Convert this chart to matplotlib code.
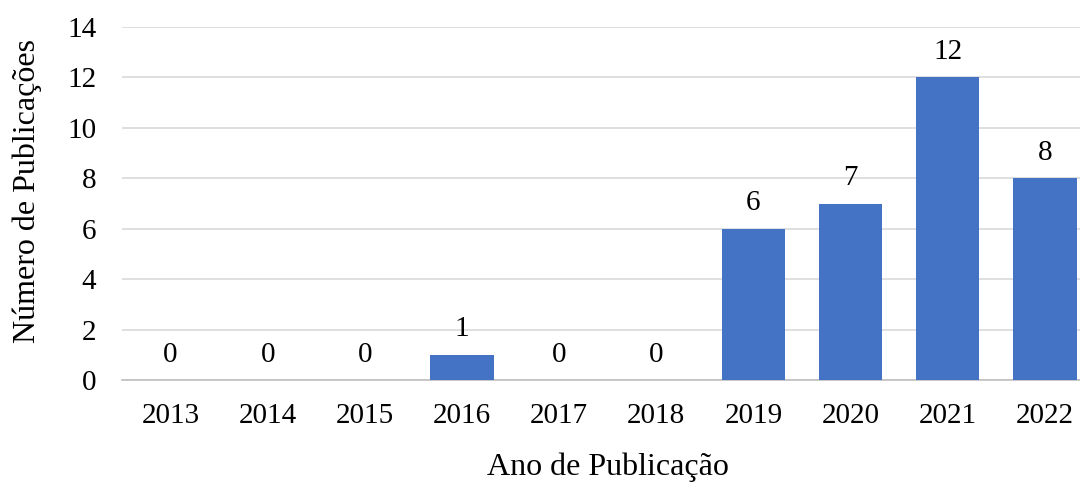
import matplotlib
matplotlib.use("Agg")
import matplotlib.pyplot as plt

years = ["2013", "2014", "2015", "2016", "2017", "2018", "2019", "2020", "2021", "2022"]
counts = [0, 0, 0, 1, 0, 0, 6, 7, 12, 8]
yticks = [0, 2, 4, 6, 8, 10, 12, 14]

plt.rcParams['font.family'] = ['Liberation Serif', 'DejaVu Serif']

fig = plt.figure(figsize=(10.8, 4.84), dpi=100)
ax = fig.add_axes([122/1080, 104/484, (1080-122)/1080, (380-27)/484])

x = list(range(len(years)))
ax.bar(x, counts, width=0.65, color='#4472C4', zorder=3)
for xi, v in zip(x, counts):
    ax.annotate(str(v), (xi, v), xytext=(0, 9), textcoords='offset points',
                ha='center', va='bottom', fontsize=21, color='black')

ax.set_xlim(-0.5, 9 + 35/97)
ax.set_ylim(0, 14)
ax.set_yticks(yticks)
ax.set_xticks(x)
ax.set_xticklabels(years)
ax.tick_params(axis='both', length=0, labelsize=21, colors='black')
ax.tick_params(axis='x', pad=16.5)
ax.tick_params(axis='y', pad=18.5)
ax.grid(axis='y', color='#D9D9D9', linewidth=1.2, zorder=0)
for s in ['top', 'right', 'left']:
    ax.spines[s].set_visible(False)
ax.spines['bottom'].set_color('#BFBFBF')
ax.spines['bottom'].set_linewidth(1.2)

ax.set_xlabel('Ano de Publicação', fontsize=23)
ax.set_ylabel('Número de Publicações', fontsize=23)
ax.xaxis.set_label_coords(0.507, -0.204)
ax.yaxis.set_label_coords(-0.083, 0.535)

fig.savefig('out.png', dpi=100)
